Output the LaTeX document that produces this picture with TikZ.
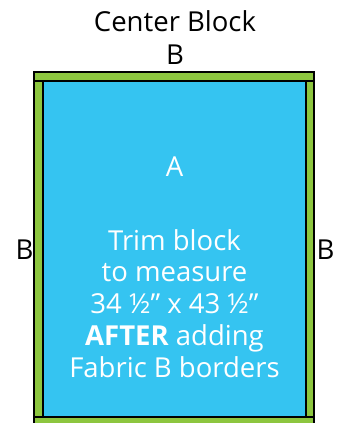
\documentclass[tikz,border=0pt]{standalone}
\usepackage{fontspec}
\setmainfont{Open Sans}
\definecolor{fabB}{RGB}{141,198,63}
\definecolor{fabA}{RGB}{53,196,241}
\tikzset{
  strip/.style={fill=fabB, draw=black, line width=1.4pt},
  field/.style={fill=fabA, draw=black, line width=1.4pt},
  lbl/.style={anchor=base, inner sep=0pt, font=\fontsize{27.5}{30}\selectfont},
  body/.style={anchor=base, inner sep=0pt, align=center, text=white, font=\fontsize{27.5}{31.7}\selectfont}
}
\begin{document}
\begin{tikzpicture}[x=1pt,y=-1pt]
\useasboundingbox (0,0) rectangle (342,423);
\begin{scope}
\clip (0,0) rectangle (342,423);
\draw[field] (43,81) rectangle (306,417);
\draw[strip] (34,72) rectangle (314,81);
\draw[strip] (34,417) rectangle (314,427);
\draw[strip] (34,81) rectangle (43,417);
\draw[strip] (306,81) rectangle (314,417);
\end{scope}
\node[lbl] (title) at (175,31) {Center Block};
\node[lbl] (btop) at (175,64) {B};
\node[lbl] (bleft) at (24.5,259) {B};
\node[lbl] (bright) at (325.5,259) {B};
\node[body] (a) at (174.5,176.7) {A};
\node[body] (trim) at (174.5,377) {Trim block\\to measure\\34 ½” x 43 ½”\\\textbf{AFTER} adding\\Fabric B borders};
\end{tikzpicture}
\end{document}
